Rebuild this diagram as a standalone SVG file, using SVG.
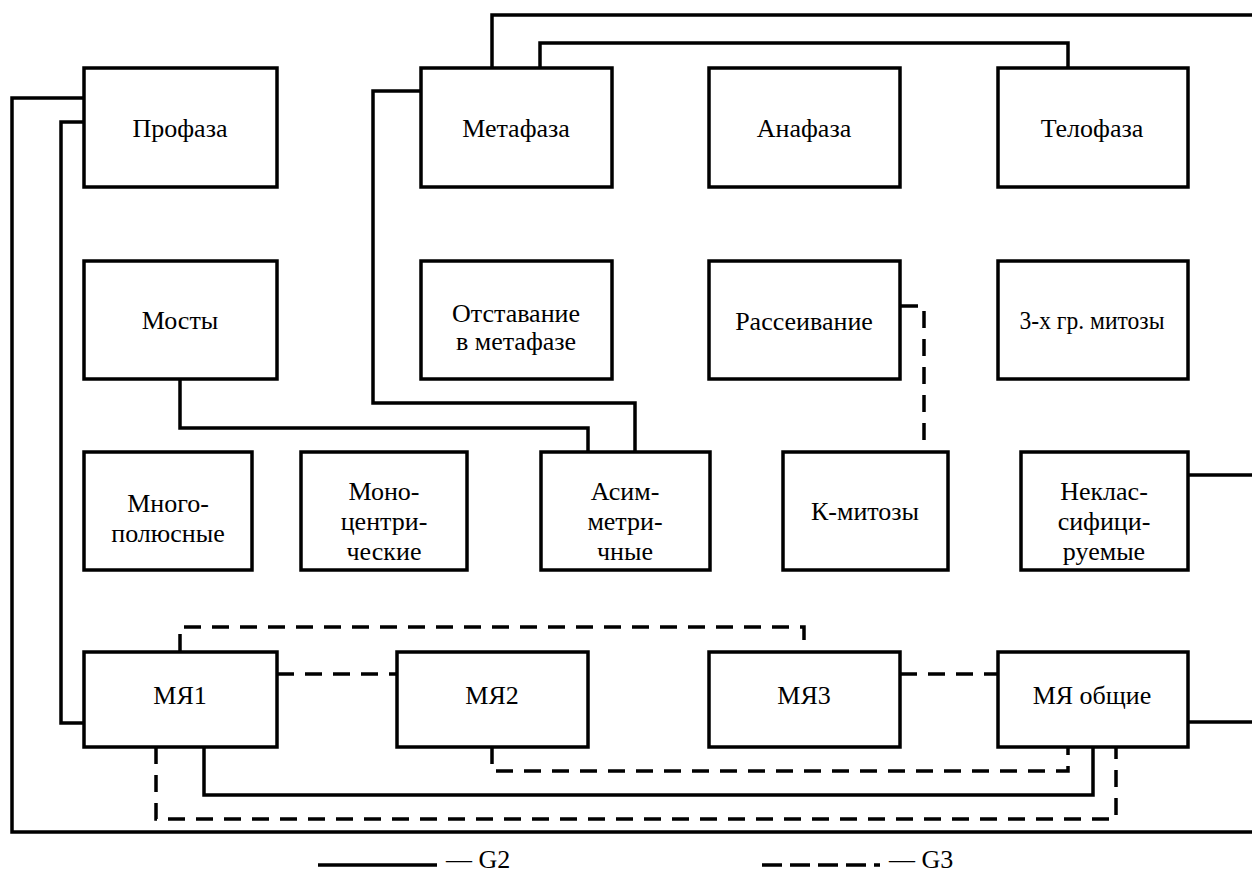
<svg xmlns="http://www.w3.org/2000/svg" width="1252" height="872" viewBox="0 0 1252 872">
<style>
.box{fill:#fff;stroke:#000;stroke-width:3.5}
.g2{fill:none;stroke:#000;stroke-width:3.5;stroke-linejoin:miter}
.g3{fill:none;stroke:#000;stroke-width:3.5;stroke-dasharray:17 11}
text{font-family:"Liberation Serif","DejaVu Serif Condensed","DejaVu Serif","Times New Roman",serif;font-size:26px;fill:#000;text-anchor:middle}
.lg{text-anchor:start}
</style>
<rect width="1252" height="872" fill="#fff"/>
<g id="connectors">
<path class="g2" d="M84,98 H12 V832 H1252"/>
<path class="g2" d="M84,122 H61 V723 H84"/>
<path class="g2" d="M421,91 H373 V403 H635 V452"/>
<path class="g2" d="M180,379 V428 H588 V452"/>
<path class="g2" d="M492,68 V15 H1252"/>
<path class="g2" d="M540,68 V43 H1068 V68"/>
<path class="g2" d="M1188,475 H1252"/>
<path class="g2" d="M1188,722 H1252"/>
<path class="g2" d="M204,747 V795 H1093 V747"/>
<path class="g3" d="M180,651 V627 H804 V651"/>
<path class="g3" d="M277,674 H397"/>
<path class="g3" d="M492,747 V771 H1068 V747"/>
<path class="g3" d="M156,747 V819 H1116 V747"/>
<path class="g3" d="M900,674 H997"/>
<path class="g3" d="M901,306 H924 V452"/>
</g>
<g id="profaza"><rect class="box" x="84" y="68" width="193" height="119"/><text x="180" y="137">Профаза</text></g>
<g id="metafaza"><rect class="box" x="421" y="68" width="191" height="119"/><text x="516" y="137">Метафаза</text></g>
<g id="anafaza"><rect class="box" x="709" y="68" width="191" height="119"/><text x="804" y="137">Анафаза</text></g>
<g id="telofaza"><rect class="box" x="998" y="68" width="190" height="119"/><text x="1092" y="137">Телофаза</text></g>
<g id="mosty"><rect class="box" x="84" y="261" width="193" height="118"/><text x="180" y="329">Мосты</text></g>
<g id="otstavanie"><rect class="box" x="421" y="261" width="191" height="118"/><text x="516" y="322">Отставание</text><text x="516" y="350">в метафазе</text></g>
<g id="rasseivanie"><rect class="box" x="709" y="261" width="191" height="118"/><text x="804" y="330">Рассеивание</text></g>
<g id="tri-gr"><rect class="box" x="998" y="261" width="190" height="118"/><text x="1092" y="329" textLength="145" lengthAdjust="spacingAndGlyphs">3-х гр. митозы</text></g>
<g id="mnogo"><rect class="box" x="84" y="452" width="168" height="118"/><text x="168" y="512">Много-</text><text x="168" y="542">полюсные</text></g>
<g id="mono"><rect class="box" x="301" y="452" width="166" height="118"/><text x="384" y="500">Моно-</text><text x="384" y="530">центри-</text><text x="384" y="560">ческие</text></g>
<g id="asim"><rect class="box" x="541" y="452" width="169" height="118"/><text x="625" y="500">Асим-</text><text x="625" y="530">метри-</text><text x="625" y="560">чные</text></g>
<g id="k-mitozy"><rect class="box" x="783" y="452" width="165" height="118"/><text x="865" y="520">К-митозы</text></g>
<g id="neklass"><rect class="box" x="1021" y="452" width="167" height="118"/><text x="1104" y="500">Неклас-</text><text x="1104" y="530">сифици-</text><text x="1104" y="560">руемые</text></g>
<g id="mya1"><rect class="box" x="84" y="652" width="193" height="95"/><text x="180" y="704">МЯ1</text></g>
<g id="mya2"><rect class="box" x="397" y="652" width="191" height="95"/><text x="492" y="704">МЯ2</text></g>
<g id="mya3"><rect class="box" x="709" y="652" width="191" height="95"/><text x="804" y="704">МЯ3</text></g>
<g id="mya-obshchie"><rect class="box" x="998" y="652" width="190" height="95"/><text x="1092" y="704">МЯ общие</text></g>
<g id="legend">
<path class="g2" d="M318,865 H437"/>
<text class="lg" x="446" y="868">— G2</text>
<path fill="none" stroke="#000" stroke-width="3.5" stroke-dasharray="20 8 20 8 20 8 20 8 6 100" d="M762,865 H882"/>
<text class="lg" x="889" y="868">— G3</text>
</g>
</svg>
